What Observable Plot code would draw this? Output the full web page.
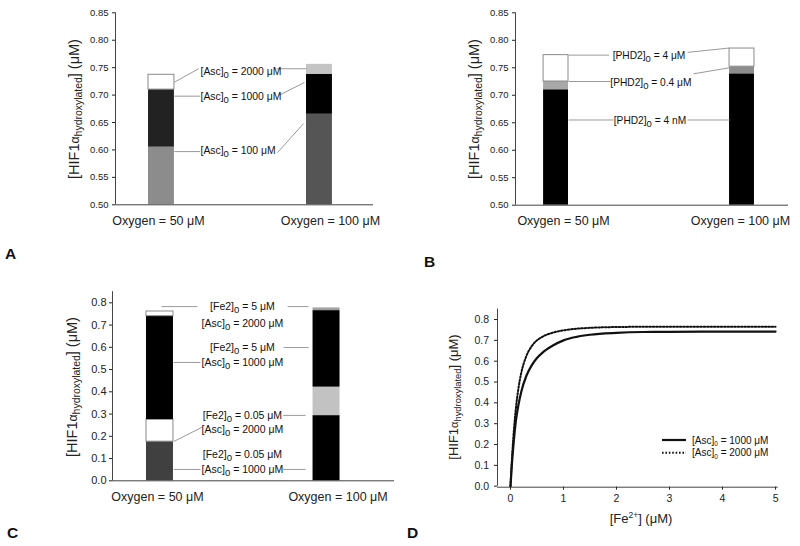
<!DOCTYPE html>
<html><head><meta charset="utf-8">
<script src="https://cdn.jsdelivr.net/npm/d3@7"></script>
<script src="https://cdn.jsdelivr.net/npm/@observablehq/plot@0.6"></script>
<style>
body{margin:0;background:#fff;}
#wrap{position:relative;width:800px;height:546px;font-family:"Liberation Sans",Arial,sans-serif;overflow:hidden;}
.panel{position:absolute;}
</style></head><body><div id="wrap"></div>
<script>
// ---------- data ----------
const oxygenLabels = ["Oxygen = 50 μM", "Oxygen = 100 μM"];

// Panel A: ascorbate levels
const hifA_asc100  = [0.605, 0.665];
const hifA_asc1000 = [0.710, 0.738];
const hifA_asc2000 = [0.737, 0.756];
const ascLabelsA = ["[Asc]₀ = 2000 μM", "[Asc]₀ = 1000 μM", "[Asc]₀ = 100 μM"];

// Panel B: PHD2 levels
const hifB_4nM  = [0.710, 0.739];
const hifB_04uM = [0.725, 0.752];
const hifB_4uM  = [0.773, 0.785];
const phdLabelsB = ["[PHD2]₀ = 4 μM", "[PHD2]₀ = 0.4 μM", "[PHD2]₀ = 4 nM"];

// Panel C: Fe2 / Asc combinations
const hifC_fe005_asc1000 = [0.176, 0.293];
const hifC_fe005_asc2000 = [0.275, 0.421];
const hifC_fe5_asc1000   = [0.740, 0.765];
const hifC_fe5_asc2000   = [0.761, 0.777];
const feLabelsC  = ["[Fe2]₀ = 5 μM", "[Fe2]₀ = 5 μM", "[Fe2]₀ = 0.05 μM", "[Fe2]₀ = 0.05 μM"];
const ascLabelsC = ["[Asc]₀ = 2000 μM", "[Asc]₀ = 1000 μM", "[Asc]₀ = 2000 μM", "[Asc]₀ = 1000 μM"];

// Panel D: HIF vs Fe2+
const feConc       = [0, 0.025, 0.05, 0.1, 0.15, 0.2, 0.3, 0.4, 0.5, 0.6, 0.8, 1.0, 1.25, 1.5, 2.0, 2.5, 3.0, 4.0, 5.0];
const hifD_asc1000 = [0, 0.10, 0.18, 0.31, 0.39, 0.45, 0.53, 0.58, 0.615, 0.64, 0.675, 0.700, 0.717, 0.727, 0.736, 0.740, 0.741, 0.742, 0.742];
const hifD_asc2000 = [0, 0.12, 0.22, 0.37, 0.47, 0.54, 0.625, 0.672, 0.700, 0.717, 0.737, 0.748, 0.756, 0.760, 0.764, 0.765, 0.765, 0.765, 0.765];
const legendD = ["[Asc]₀ = 1000 μM", "[Asc]₀ = 2000 μM"];

const yTicksAB = [0.50, 0.55, 0.60, 0.65, 0.70, 0.75, 0.80, 0.85];
const yTicksC  = [0, 0.1, 0.2, 0.3, 0.4, 0.5, 0.6, 0.7, 0.8];
const yTicksD  = [0, 0.1, 0.2, 0.3, 0.4, 0.5, 0.6, 0.7, 0.8];
const xTicksD  = [0, 1, 2, 3, 4, 5];

// ---------- helpers ----------
const FONT = "'Liberation Sans', Arial, sans-serif";
const wrap = document.getElementById("wrap");

// build stacked-looking segments from overlapping bar values
function segments(series, fills, base) {
  const rows = [];
  for (let i = 0; i < 2; i++) {
    const vals = series.map((s, k) => ({v: s[i], fill: fills[k][i]})).sort((a, b) => a.v - b.v);
    let prev = base;
    for (const d of vals) {
      rows.push({pos: i, y1: prev, y2: d.v, fill: d.fill});
      prev = d.v;
    }
  }
  return rows;
}

function subscripts(svg, subSize, shift) {
  d3.select(svg).selectAll("text").each(function() {
    const t = this.textContent;
    if (!t.includes("₀")) return;
    const parts = t.split("₀");
    const sel = d3.select(this);
    sel.text(null);
    parts.forEach((p, i) => {
      if (i > 0) {
        sel.append("tspan").attr("dy", shift).attr("font-size", subSize).text("0");
        sel.append("tspan").attr("dy", -shift).text(p);
      } else sel.append("tspan").text(p);
    });
  });
}

function yLabel(svg, x, y, size) {
  const t = d3.select(svg).append("text")
    .attr("transform", `translate(${x},${y}) rotate(-90)`)
    .attr("text-anchor", "middle").attr("font-size", size).attr("fill", "#222");
  t.append("tspan").text("[HIF1");
  t.append("tspan").attr("font-size", size * 0.85).text("α");
  t.append("tspan").attr("dy", 3).attr("font-size", size * 0.72).text("hydroxylated");
  t.append("tspan").attr("dy", -3).text("] (μM)");
}

function letter(svg, x, y, s) {
  d3.select(svg).append("text").attr("x", x).attr("y", y).attr("text-anchor", "start")
    .attr("font-size", 15.5).attr("font-weight", "bold").attr("fill", "#111").text(s);
}

function place(svg, left, top) {
  const div = document.createElement("div");
  div.className = "panel";
  div.style.left = left + "px";
  div.style.top = top + "px";
  div.appendChild(svg);
  wrap.appendChild(div);
}

const style = {fontFamily: FONT, background: "transparent", overflow: "visible"};
const axisColor = "#444";
const leader = "#9a9a9a";

function catAxes(dx0, dx1, pad) {
  return [
    Plot.axisX({ticks: [0], tickFormat: i => oxygenLabels[i], tickSize: 0, tickPadding: pad, fontSize: 12.5, dx: dx0, label: null, color: "#222"}),
    Plot.axisX({ticks: [1], tickFormat: i => oxygenLabels[i], tickSize: 0, tickPadding: pad, fontSize: 12.5, dx: dx1, label: null, color: "#222"})
  ];
}

// ---------- Panel A ----------
{
  const hw = 0.082;
  const xd = [-0.291, 1.342];
  const fills = [["#8c8c8c", "#555555"], ["#222222", "#000000"], ["#ffffff", "#c4c4c4"]];
  const rows = segments([hifA_asc100, hifA_asc1000, hifA_asc2000], fills, 0.5);
  const texts = [
    {x: 0.247, y: 0.743, t: ascLabelsA[0]},
    {x: 0.247, y: 0.698, t: ascLabelsA[1]},
    {x: 0.247, y: 0.598, t: ascLabelsA[2]}
  ];
  const links = [
    {x1: 0.082, y1: 0.7235, x2: 0.235, y2: 0.748},
    {x1: 0.728, y1: 0.748, x2: 0.918, y2: 0.748},
    {x1: 0.082, y1: 0.698, x2: 0.245, y2: 0.698},
    {x1: 0.747, y1: 0.700, x2: 0.905, y2: 0.723},
    {x1: 0.082, y1: 0.597, x2: 0.245, y2: 0.597},
    {x1: 0.734, y1: 0.595, x2: 0.899, y2: 0.648}
  ];
  const svg = Plot.plot({
    width: 400, height: 270,
    marginLeft: 115, marginRight: 27, marginTop: 12.3, marginBottom: 65.7,
    style,
    x: {type: "linear", domain: xd},
    y: {domain: [0.5, 0.85]},
    marks: [
      Plot.rect(rows, {x1: d => d.pos - hw, x2: d => d.pos + hw, y1: "y1", y2: "y2", fill: "fill",
        stroke: d => d.fill === "#ffffff" ? "#8a8a8a" : "none", strokeWidth: 1}),
      Plot.link(links, {x1: "x1", y1: "y1", x2: "x2", y2: "y2", stroke: leader, strokeWidth: 1}),
      Plot.text(texts, {x: "x", y: "y", text: "t", textAnchor: "start", fontSize: 10.4, fill: "#111"}),
      Plot.ruleX([xd[0]], {stroke: axisColor}),
      Plot.ruleY([0.5], {stroke: axisColor}),
      Plot.axisY({ticks: yTicksAB, tickFormat: d3.format(".2f"), tickSize: 3, tickPadding: 4, fontSize: 9.5, label: null, color: "#222"}),
      ...catAxes(-3, 11, 11)
    ]
  });
  subscripts(svg, 9.5, 3);
  yLabel(svg, 79, 109, 14.5);
  letter(svg, 5, 259, "A");
  place(svg, 0, 0);
}

// ---------- Panel B ----------
{
  const hw = 0.067;
  const xd = [-0.218, 1.25];
  const fills = [["#000000", "#000000"], ["#a8a8a8", "#8c8c8c"], ["#ffffff", "#ffffff"]];
  const rows = segments([hifB_4nM, hifB_04uM, hifB_4uM], fills, 0.5);
  const texts = [
    {x: 0.50, y: 0.771, t: phdLabelsB[0]},
    {x: 0.51, y: 0.7235, t: phdLabelsB[1]},
    {x: 0.505, y: 0.654, t: phdLabelsB[2]}
  ];
  const links = [
    {x1: 0.067, y1: 0.773, x2: 0.285, y2: 0.773},
    {x1: 0.707, y1: 0.778, x2: 0.933, y2: 0.786},
    {x1: 0.067, y1: 0.725, x2: 0.293, y2: 0.725},
    {x1: 0.739, y1: 0.739, x2: 0.933, y2: 0.750},
    {x1: 0.067, y1: 0.655, x2: 0.309, y2: 0.655},
    {x1: 0.707, y1: 0.655, x2: 0.933, y2: 0.655}
  ];
  const svg = Plot.plot({
    width: 400, height: 270,
    marginLeft: 115, marginRight: 12, marginTop: 12.3, marginBottom: 65.3,
    style,
    x: {type: "linear", domain: xd},
    y: {domain: [0.5, 0.85]},
    marks: [
      Plot.rect(rows, {x1: d => d.pos - hw, x2: d => d.pos + hw, y1: "y1", y2: "y2", fill: "fill",
        stroke: d => d.fill === "#ffffff" ? "#8a8a8a" : "none", strokeWidth: 1}),
      Plot.link(links, {x1: "x1", y1: "y1", x2: "x2", y2: "y2", stroke: leader, strokeWidth: 1}),
      Plot.text(texts, {x: "x", y: "y", text: "t", fontSize: 10.2, fill: "#111"}),
      Plot.ruleX([xd[0]], {stroke: axisColor}),
      Plot.ruleY([0.5], {stroke: axisColor}),
      Plot.axisY({ticks: yTicksAB, tickFormat: d3.format(".2f"), tickSize: 3, tickPadding: 4, fontSize: 9.5, label: null, color: "#222"}),
      ...catAxes(7.5, -1.5, 11)
    ]
  });
  subscripts(svg, 9.5, 3);
  yLabel(svg, 79, 109, 14.5);
  letter(svg, 24, 267, "B");
  place(svg, 400, 0);
}

// ---------- Panel C ----------
{
  const hw = 0.081;
  const xd = [-0.285, 1.408];
  const fills = [["#404040", "#000000"], ["#ffffff", "#c2c2c2"], ["#000000", "#000000"], ["#ffffff", "#a0a0a0"]];
  const rows = segments([hifC_fe005_asc1000, hifC_fe005_asc2000, hifC_fe5_asc1000, hifC_fe5_asc2000], fills, 0);
  const ys = [[0.783, 0.707], [0.599, 0.532], [0.294, 0.2306], [0.118, 0.051]];
  const texts = [];
  ys.forEach((p, i) => {
    texts.push({x: 0.495, y: p[0], t: feLabelsC[i]});
    texts.push({x: 0.495, y: p[1], t: ascLabelsC[i]});
  });
  const links = [
    {x1: 0.009, y1: 0.783, x2: 0.225, y2: 0.783},
    {x1: 0.766, y1: 0.783, x2: 0.892, y2: 0.783},
    {x1: 0.081, y1: 0.532, x2: 0.243, y2: 0.532},
    {x1: 0.742, y1: 0.599, x2: 0.892, y2: 0.599},
    {x1: 0.083, y1: 0.1766, x2: 0.253, y2: 0.241},
    {x1: 0.740, y1: 0.294, x2: 0.874, y2: 0.294},
    {x1: 0.083, y1: 0.051, x2: 0.243, y2: 0.051},
    {x1: 0.740, y1: 0.051, x2: 0.874, y2: 0.051}
  ];
  const svg = Plot.plot({
    width: 400, height: 276,
    marginLeft: 112, marginRight: 6, marginTop: 21.2, marginBottom: 65.7,
    style,
    x: {type: "linear", domain: xd},
    y: {domain: [0, 0.85]},
    marks: [
      Plot.rect(rows, {x1: d => d.pos - hw, x2: d => d.pos + hw, y1: "y1", y2: "y2", fill: "fill",
        stroke: d => d.fill === "#ffffff" ? "#8a8a8a" : "none", strokeWidth: 1}),
      Plot.link(links, {x1: "x1", y1: "y1", x2: "x2", y2: "y2", stroke: leader, strokeWidth: 1}),
      Plot.text(texts, {x: "x", y: "y", text: "t", fontSize: 10.5, fill: "#111"}),
      Plot.ruleX([xd[0]], {stroke: axisColor}),
      Plot.ruleY([0], {stroke: axisColor}),
      Plot.axisY({ticks: yTicksC, tickFormat: d3.format(".1f"), tickSize: 3, tickPadding: 3, fontSize: 11, label: null, color: "#222"}),
      ...catAxes(-2.5, 11.5, 11)
    ]
  });
  subscripts(svg, 9.5, 3);
  yLabel(svg, 77, 117, 14.5);
  letter(svg, 7, 268, "C");
  place(svg, 0, 270);
}

// ---------- Panel D ----------
{
  const xd = [-0.245, 5.05];
  const rows1 = feConc.map((x, i) => ({x, y: hifD_asc1000[i]}));
  const rows2 = feConc.map((x, i) => ({x, y: hifD_asc2000[i]}));
  const dash = "1.6,1.8";
  const svg = Plot.plot({
    width: 400, height: 276,
    marginLeft: 97, marginRight: 22.3, marginTop: 38.6, marginBottom: 60.3,
    style,
    x: {type: "linear", domain: xd},
    y: {domain: [0, 0.85]},
    marks: [
      Plot.ruleX([xd[0]], {stroke: axisColor}),
      Plot.ruleY([0], {stroke: axisColor, dy: 1}),
      Plot.line(rows2, {x: "x", y: "y", stroke: "#111", strokeWidth: 2, strokeDasharray: dash, curve: "monotone-x"}),
      Plot.line(rows1, {x: "x", y: "y", stroke: "#111", strokeWidth: 2.2, curve: "monotone-x"}),
      Plot.axisY({ticks: yTicksD, tickFormat: d3.format(".1f"), tickSize: 3, tickPadding: 5.5, fontSize: 10.5, label: null, color: "#222"}),
      Plot.axisX({ticks: xTicksD, tickFormat: d3.format("d"), tickSize: 3, tickPadding: 4, fontSize: 10.5, label: null, color: "#222", dy: 1})
    ]
  });
  const s = d3.select(svg);
  // legend
  const lg = s.append("g").attr("font-size", 10).attr("fill", "#111").attr("text-anchor", "start");
  [[170, null, 2.2], [182.7, dash, 2]].forEach(([y, da, w], i) => {
    lg.append("line").attr("x1", 262).attr("x2", 286).attr("y1", y).attr("y2", y)
      .attr("stroke", "#111").attr("stroke-width", w).attr("stroke-dasharray", da);
    const t = lg.append("text").attr("x", 292).attr("y", y).attr("dy", "0.35em");
    const parts = legendD[i].split("₀");
    t.append("tspan").text(parts[0]);
    t.append("tspan").attr("dy", 2.5).attr("font-size", 6.5).text("0");
    t.append("tspan").attr("dy", -2.5).text(parts[1]);
  });
  // x title
  const xt = s.append("text").attr("x", 241).attr("y", 253).attr("text-anchor", "middle").attr("font-size", 13).attr("fill", "#222");
  xt.append("tspan").text("[Fe");
  xt.append("tspan").attr("dy", -5).attr("font-size", 8.5).text("2+");
  xt.append("tspan").attr("dy", 5).text("] (μM)");
  yLabel(svg, 58, 127, 13);
  letter(svg, 7, 268, "D");
  place(svg, 400, 270);
}
</script></body></html>
